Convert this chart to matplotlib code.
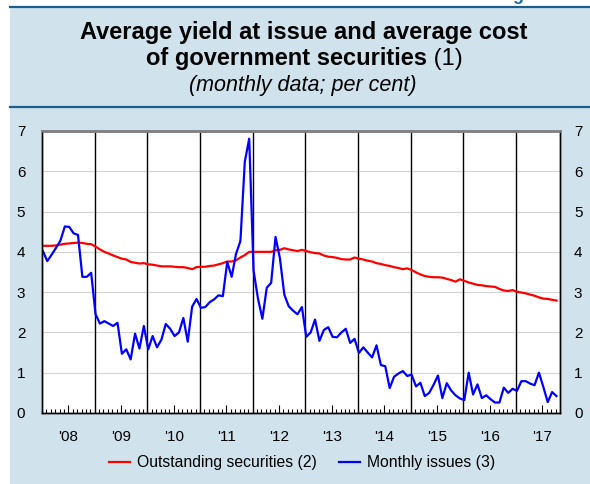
import matplotlib
matplotlib.use("Agg")
import matplotlib.pyplot as plt
import numpy as np
from matplotlib.patches import Rectangle
from matplotlib.lines import Line2D

plt.rcParams['font.family'] = ['Liberation Sans', 'DejaVu Sans']

# monthly data, Jan 2008 - Oct 2017 (per cent)
outstanding = [
    4.15, 4.15, 4.15, 4.16, 4.18, 4.20, 4.21, 4.22, 4.23, 4.22, 4.20, 4.19,
    4.13, 4.06, 4.00, 3.96, 3.91, 3.87, 3.83, 3.81, 3.75, 3.73, 3.71, 3.72,
    3.69, 3.68, 3.66, 3.64, 3.64, 3.64, 3.63, 3.62, 3.62, 3.60, 3.57, 3.62,
    3.63, 3.63, 3.65, 3.66, 3.69, 3.72, 3.76, 3.76, 3.79, 3.86, 3.92, 4.00,
    4.00, 4.00, 4.00, 4.00, 4.00, 4.04, 4.05, 4.09, 4.06, 4.04, 4.02, 4.05,
    4.02, 3.99, 3.97, 3.96, 3.91, 3.88, 3.87, 3.85, 3.82, 3.81, 3.81, 3.86,
    3.83, 3.81, 3.78, 3.76, 3.72, 3.70, 3.67, 3.65, 3.62, 3.60, 3.57, 3.59,
    3.55, 3.49, 3.44, 3.40, 3.38, 3.37, 3.37, 3.36, 3.33, 3.30, 3.26, 3.32,
    3.28, 3.24, 3.21, 3.18, 3.17, 3.15, 3.14, 3.13, 3.08, 3.04, 3.03, 3.05,
    3.01, 2.99, 2.97, 2.94, 2.91, 2.87, 2.84, 2.83, 2.81, 2.79,
]
monthly_issues = [
    4.02, 3.77, 3.93, 4.10, 4.28, 4.63, 4.62, 4.46, 4.42, 3.38, 3.38, 3.48,
    2.45, 2.22, 2.28, 2.22, 2.16, 2.24, 1.47, 1.58, 1.33, 1.97, 1.60, 2.16,
    1.58, 1.91, 1.63, 1.82, 2.21, 2.09, 1.91, 2.00, 2.36, 1.77, 2.64, 2.83,
    2.61, 2.63, 2.75, 2.82, 2.92, 2.90, 3.75, 3.38, 3.95, 4.27, 6.24, 6.81,
    3.53, 2.84, 2.34, 3.11, 3.23, 4.37, 3.84, 2.94, 2.65, 2.54, 2.45, 2.63,
    1.89, 2.00, 2.32, 1.79, 2.06, 2.13, 1.89, 1.88, 2.00, 2.09, 1.74, 1.84,
    1.49, 1.63, 1.50, 1.38, 1.68, 1.19, 1.16, 0.62, 0.90, 0.98, 1.04, 0.92,
    0.95, 0.66, 0.75, 0.42, 0.50, 0.70, 0.93, 0.37, 0.74, 0.56, 0.44, 0.36,
    0.32, 1.00, 0.46, 0.71, 0.37, 0.44, 0.34, 0.26, 0.26, 0.63, 0.50, 0.60,
    0.55, 0.79, 0.79, 0.73, 0.69, 1.00, 0.65, 0.27, 0.52, 0.42,
]
year_labels = ["'08", "'09", "'10", "'11", "'12", "'13", "'14", "'15", "'16", "'17"]
series_names = ['Outstanding securities (2)', 'Monthly issues (3)']

W, H = 590, 484
panel_col = '#d0e2ec'
rule_col = '#1b5f8c'

fig = plt.figure(figsize=(W / 100, H / 100), dpi=100)
fig.patch.set_facecolor('white')

def fx(px):
    return px / W

def fy(py):
    return 1 - py / H

# background panel and title rules
fig.patches.append(Rectangle((fx(10), 0), 1 - fx(10), fy(7), transform=fig.transFigure,
                             facecolor=panel_col, edgecolor='none', zorder=-5))
for yy in (7, 107):
    fig.lines.append(Line2D([fx(10), 1], [fy(yy), fy(yy)], transform=fig.transFigure,
                            color=rule_col, lw=1.6, zorder=-4))
# figure label, almost entirely above the top edge as in the source page
fig.text(fx(497), fy(0.3), 'Figure 10', ha='left', va='baseline', fontsize=13,
         fontweight='bold', color='#1f6fae')

# titles
fig.text(fx(304), fy(33), 'Average yield at issue and average cost', ha='center',
         va='center', fontsize=17, fontweight='bold')
t1 = fig.text(0, fy(59), 'of government securities', ha='left', va='center',
              fontsize=17, fontweight='bold')
t2 = fig.text(0, fy(59), ' (1)', ha='left', va='center', fontsize=17)
r = fig.canvas.get_renderer()
w1 = t1.get_window_extent(r).width
w2 = t2.get_window_extent(r).width
x0 = 304 - (w1 + w2) / 2
t1.set_x(fx(x0))
t2.set_x(fx(x0 + w1))
fig.text(fx(303), fy(85), '(monthly data; per cent)', ha='center', va='center',
         fontsize=15.5, style='italic')

# plot
ax = fig.add_axes([fx(42), fy(413), fx(560) - fx(42), fy(131) - fy(413)])
ax.set_facecolor('white')
n = len(outstanding)
x = np.arange(n) + 0.2
ax.set_xlim(0, 118)
ax.set_ylim(0, 7)

for k in range(1, 7):
    ax.axhline(k, color='#d3d3d3', lw=0.8, zorder=1)
for k in range(1, 10):
    ax.axvline(12 * k, color='black', lw=1.0, zorder=2)

ax.plot(x, outstanding, color='#ff0000', lw=1.6, zorder=3)
ax.plot(x, monthly_issues, color='#0000ff', lw=1.6, zorder=4)

ax.set_xticks(np.arange(len(year_labels)) * 12 + 6)
ax.set_xticklabels(year_labels, fontsize=11)
ax.set_xticks(np.arange(0, 119), minor=True)
ax.tick_params(axis='x', which='major', direction='in', length=6, width=0.8, pad=12)
ax.tick_params(axis='x', which='minor', direction='in', length=3, width=0.8)
ax.set_yticks(range(0, 8))
ax.tick_params(axis='y', length=0, labelsize=11, pad=12)

ax2 = ax.twinx()
ax2.set_ylim(0, 7)
ax2.set_yticks(range(0, 8))
ax2.tick_params(axis='y', length=0, labelsize=11, pad=10)

for a in (ax, ax2):
    a.spines['top'].set_color('#808080')
    a.spines['top'].set_linewidth(1.8)
    for s in ('left', 'right', 'bottom'):
        a.spines[s].set_color('black')
        a.spines[s].set_linewidth(1.0)

handles = [Line2D([], [], color='#ff0000', lw=1.6), Line2D([], [], color='#0000ff', lw=1.6)]
fig.legend(handles, series_names, loc='center', bbox_to_anchor=(fx(302), fy(463)),
           ncol=2, frameon=False, fontsize=11.3, handlelength=1.35, handletextpad=0.45,
           columnspacing=1.4)

fig.savefig('out.png', dpi=100, facecolor=fig.get_facecolor())
